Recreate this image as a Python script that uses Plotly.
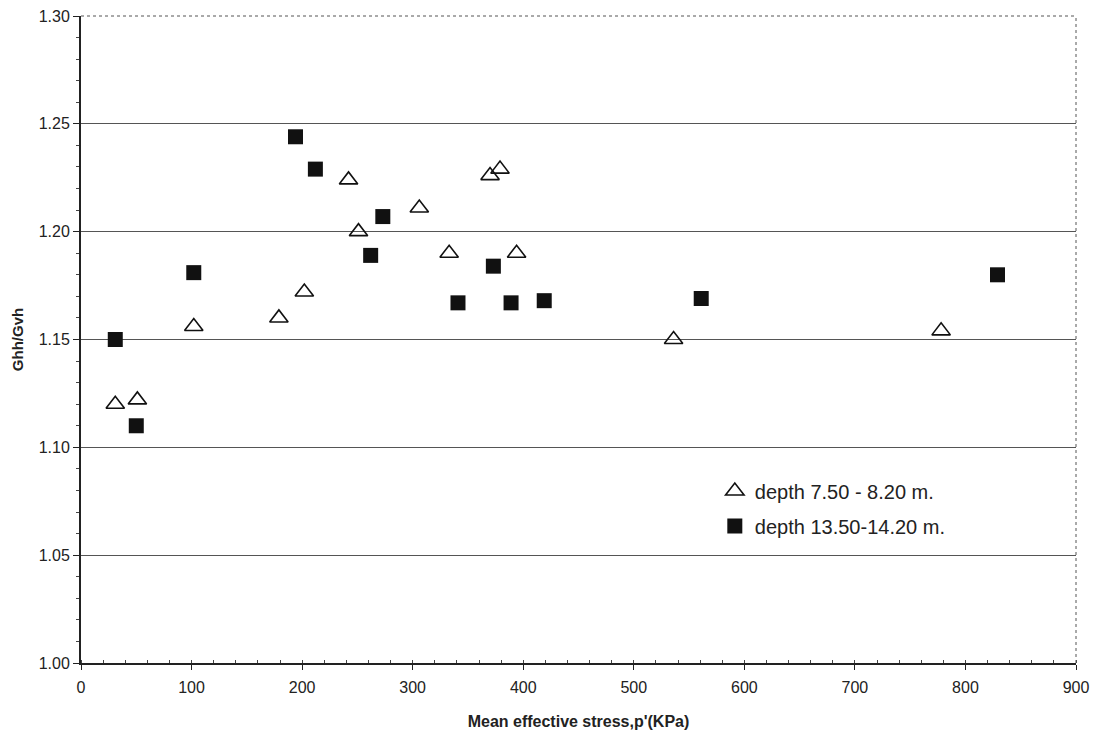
import plotly.graph_objects as go

# Series 1: depth 7.50 - 8.20 m (open triangles)
p_shallow = [31, 51, 102, 179, 202, 242, 251, 306, 333, 370, 379, 394, 536, 778]
g_shallow = [1.120, 1.122, 1.156, 1.160, 1.172, 1.224, 1.200, 1.211, 1.190, 1.226, 1.229, 1.190, 1.150, 1.154]

# Series 2: depth 13.50-14.20 m (filled squares)
p_deep = [31, 50, 102, 194, 212, 273, 262, 341, 373, 389, 419, 561, 829]
g_deep = [1.150, 1.110, 1.181, 1.244, 1.229, 1.207, 1.189, 1.167, 1.184, 1.167, 1.168, 1.169, 1.180]

name_shallow = "depth 7.50 - 8.20 m."
name_deep = "depth 13.50-14.20 m."

x_title = "Mean effective stress,p'(KPa)"
y_title = "Ghh/Gvh"

FONT = "Liberation Sans, Arial, sans-serif"

fig = go.Figure()
fig.add_trace(go.Scatter(
    x=p_shallow, y=g_shallow, mode="markers", name=name_shallow,
    legendgroup="a",
    marker=dict(symbol="triangle-up-open", size=16, color="#111111",
                line=dict(width=1.6, color="#111111")),
))
fig.add_trace(go.Scatter(
    x=p_deep, y=g_deep, mode="markers", name=name_deep,
    legendgroup="b",
    marker=dict(symbol="square", size=15, color="#111111",
                line=dict(width=0)),
))

fig.update_layout(
    width=1096, height=734,
    margin=dict(l=81, r=20, t=16, b=71),
    paper_bgcolor="white", plot_bgcolor="white",
    font=dict(family=FONT, color="#222222", size=16),
    showlegend=True,
    legend=dict(
        x=0.637, y=0.296, xanchor="left", yanchor="top",
        bgcolor="rgba(0,0,0,0)", borderwidth=0,
        font=dict(size=20, family=FONT, color="#222222"),
        tracegroupgap=6, itemwidth=30,
    ),
    xaxis=dict(
        range=[0, 900], dtick=100, tick0=0, automargin=False,
        showgrid=False, zeroline=False,
        showline=True, linecolor="#222222", linewidth=1.5,
        ticks="outside", ticklen=5, tickcolor="#222222", tickwidth=1.2,
        ticklabelstandoff=4,
        tickfont=dict(size=16, family=FONT, color="#222222"),
        minor=dict(dtick=20, ticks="inside", ticklen=3, tickcolor="#444444", showgrid=False),
        title=dict(text="<b>" + x_title + "</b>", standoff=21,
                   font=dict(size=16, family=FONT, color="#222222")),
    ),
    yaxis=dict(
        range=[1.00, 1.30], dtick=0.05, tick0=1.0, tickformat=".2f", automargin=False,
        showgrid=True, gridcolor="#555555", gridwidth=1,
        zeroline=False,
        showline=True, linecolor="#222222", linewidth=2,
        ticks="outside", ticklen=6, tickcolor="#222222", tickwidth=1.2,
        tickfont=dict(size=16, family=FONT, color="#222222"),
        minor=dict(dtick=0.01, ticks="outside", ticklen=3, tickcolor="#444444", showgrid=False),
        title=dict(text="<b>" + y_title + "</b>", standoff=11,
                   font=dict(size=15, family=FONT, color="#222222")),
    ),
    shapes=[
        dict(type="line", xref="paper", yref="paper", x0=0, x1=1, y0=1, y1=1,
             line=dict(color="#555555", width=1, dash="dot")),
        dict(type="line", xref="paper", yref="paper", x0=1, x1=1, y0=0, y1=1,
             line=dict(color="#555555", width=1, dash="dot")),
    ],
)

fig.write_html("out.html")
